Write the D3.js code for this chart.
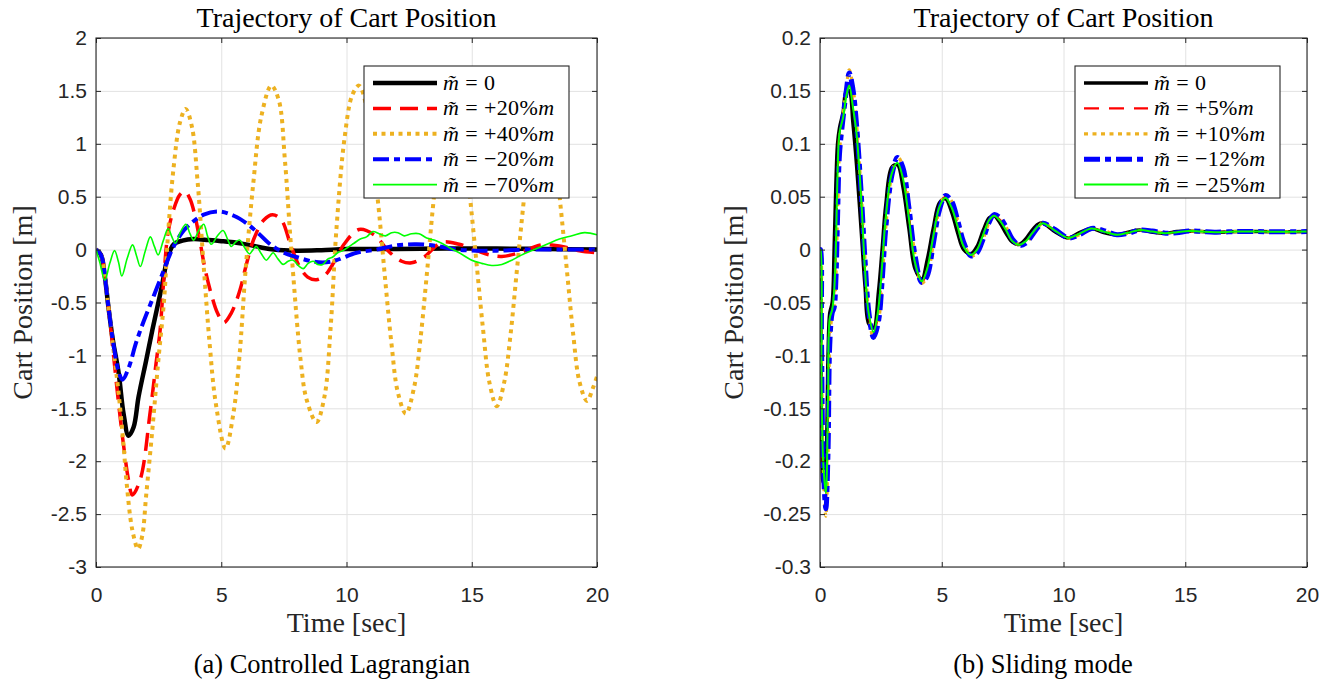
<!DOCTYPE html>
<html>
<head>
<meta charset="utf-8">
<script src="https://cdn.jsdelivr.net/npm/d3@7"></script>
<style>
  body { margin: 0; background: #fff; }
  svg { display: block; }
</style>
</head>
<body>
<svg id="fig" width="1333" height="684"></svg>
<script>
// ---------- shared axis data ----------
const xTicks = [0, 5, 10, 15, 20];
const xTickLabels = ["0", "5", "10", "15", "20"];

const clYTicks = [2, 1.5, 1, 0.5, 0, -0.5, -1, -1.5, -2, -2.5, -3];
const clYTickLabels = ["2", "1.5", "1", "0.5", "0", "-0.5", "-1", "-1.5", "-2", "-2.5", "-3"];

const smYTicks = [0.2, 0.15, 0.1, 0.05, 0, -0.05, -0.1, -0.15, -0.2, -0.25, -0.3];
const smYTickLabels = ["0.2", "0.15", "0.1", "0.05", "0", "-0.05", "-0.1", "-0.15", "-0.2", "-0.25", "-0.3"];

// ---------- (a) controlled Lagrangian: [time, position] ----------
const clLabels = ["0", "+20%", "+40%", "\u221220%", "\u221270%"];

const clBlack = [[0,0],[0.2,-0.05],[0.35,-0.25],[0.5,-0.55],[0.67,-0.85],[0.9,-1.16],[1.1,-1.55],[1.3,-1.76],[1.5,-1.68],[1.7,-1.39],
  [2.0,-1.05],[2.25,-0.76],[2.6,-0.38],[2.87,-0.07],[3.1,0.05],[3.45,0.085],[3.9,0.1],[4.5,0.09],[5.0,0.08],[5.6,0.065],
  [6.1,0.045],[6.6,0.02],[7.1,0.0],[8.0,-0.01],[9.0,-0.005],[10,0.005],[12,0.005],[14,0.01],[16,0.01],[18,0.005],[20,0]];

const clRed = [[0,0],[0.2,-0.05],[0.35,-0.25],[0.5,-0.55],[0.7,-1.0],[0.9,-1.45],[1.1,-1.85],[1.3,-2.18],[1.45,-2.32],[1.77,-2.17],
  [2.16,-1.54],[2.4,-1.07],[2.56,-0.76],[2.7,-0.3],[2.87,0.15],[3.1,0.38],[3.35,0.52],[3.55,0.55],[3.75,0.48],[3.95,0.32],
  [4.15,0.08],[4.35,-0.18],[4.6,-0.42],[4.85,-0.6],[5.1,-0.69],[5.4,-0.6],[5.75,-0.38],[5.95,-0.19],[6.3,0.1],[6.7,0.28],
  [7.05,0.33],[7.4,0.28],[7.75,0.06],[8.1,-0.15],[8.45,-0.26],[8.8,-0.285],[9.15,-0.24],[9.5,-0.12],[9.9,0.05],[10.5,0.19],
  [11.1,0.14],[11.7,-0.02],[12.2,-0.11],[12.6,-0.125],[13.1,-0.07],[13.8,0.07],[14.5,0.05],[15.2,-0.01],[15.7,-0.05],[16.2,-0.065],
  [16.9,-0.03],[17.8,0.045],[18.6,0.03],[19.3,-0.01],[20,-0.03]];

const clYellow = [[0,0],[0.2,-0.05],[0.35,-0.25],[0.5,-0.55],[0.7,-0.95],[0.9,-1.35],[1.1,-1.85],[1.22,-2.2],[1.45,-2.65],[1.68,-2.83],
  [1.85,-2.7],[2.0,-2.33],[2.25,-1.7],[2.48,-1.07],[2.72,-0.47],[2.88,0.16],[3.1,0.78],[3.35,1.2],[3.58,1.33],[3.83,1.16],
  [4.06,0.63],[4.3,-0.16],[4.54,-0.9],[4.78,-1.45],[5.17,-1.88],[5.49,-1.54],[5.73,-1.0],[5.97,-0.2],[6.28,0.63],[6.6,1.26],
  [7.0,1.55],[7.3,1.41],[7.54,0.85],[7.78,0.05],[8.18,-1.07],[8.41,-1.42],[8.8,-1.63],[9.12,-1.39],[9.36,-0.76],[9.6,0.2],
  [9.92,1.05],[10.23,1.46],[10.5,1.55],[10.8,1.35],[11.05,0.9],[11.3,0.35],[11.55,-0.3],[11.8,-0.9],[12.05,-1.35],[12.37,-1.55],
  [12.7,-1.3],[12.95,-0.85],[13.2,-0.25],[13.45,0.4],[13.7,0.95],[14.2,1.52],[14.7,1.0],[14.95,0.45],[15.2,-0.15],[15.45,-0.75],
  [15.7,-1.25],[16.0,-1.48],[16.3,-1.25],[16.55,-0.8],[16.8,-0.2],[17.05,0.4],[17.3,0.95],[17.8,1.48],[18.3,0.95],[18.55,0.4],
  [18.8,-0.2],[19.05,-0.8],[19.3,-1.25],[19.6,-1.43],[19.85,-1.3],[20,-1.2]];

const clBlue = [[0,0],[0.2,-0.05],[0.35,-0.25],[0.5,-0.55],[0.7,-0.9],[0.9,-1.15],[1.06,-1.23],[1.3,-1.12],[1.6,-0.88],[1.9,-0.68],
  [2.3,-0.44],[2.7,-0.2],[3.0,-0.02],[3.4,0.15],[3.8,0.25],[4.3,0.33],[4.9,0.36],[5.5,0.32],[6.0,0.25],[6.5,0.15],
  [6.9,0.06],[7.5,-0.03],[8.0,-0.07],[8.7,-0.115],[9.2,-0.12],[9.6,-0.1],[10.4,-0.03],[11.2,0.0],[12.0,0.04],[12.8,0.05],
  [13.6,0.035],[14.4,0.0],[15.2,-0.01],[16.0,-0.01],[17.0,0.0],[18.0,0.0],[20,0.0]];

const clGreen = [[0,0],[0.15,-0.12],[0.35,-0.29],[0.55,-0.13],[0.74,-0.01],[0.9,-0.12],[1.03,-0.25],[1.25,-0.08],[1.46,0.045],[1.62,-0.06],
  [1.77,-0.16],[1.97,-0.01],[2.17,0.12],[2.33,0.03],[2.48,-0.05],[2.68,0.08],[2.88,0.2],[3.03,0.12],[3.17,0.06],[3.38,0.17],
  [3.59,0.24],[3.75,0.15],[3.9,0.09],[4.1,0.18],[4.3,0.24],[4.45,0.13],[4.6,0.05],[4.85,0.13],[5.07,0.18],[5.25,0.1],
  [5.4,0.03],[5.57,0.07],[5.73,0.09],[5.93,0.02],[6.13,-0.04],[6.27,0.0],[6.4,0.03],[6.6,-0.04],[6.8,-0.1],[6.95,-0.06],
  [7.07,-0.03],[7.27,-0.09],[7.47,-0.14],[7.67,-0.11],[7.87,-0.1],[8.07,-0.15],[8.27,-0.18],[8.47,-0.13],[8.67,-0.11],[8.85,-0.14],
  [9.05,-0.14],[9.25,-0.09],[9.45,-0.07],[9.65,-0.03],[9.85,-0.01],[10.05,0.02],[10.3,0.06],[10.55,0.1],[10.8,0.12],[11.05,0.17],
  [11.3,0.15],[11.55,0.13],[11.8,0.16],[12.05,0.16],[12.3,0.13],[12.6,0.15],[12.9,0.15],[13.2,0.11],[13.5,0.09],[13.8,0.06],
  [14.1,0.02],[14.5,-0.03],[15.0,-0.1],[15.4,-0.13],[15.8,-0.15],[16.2,-0.14],[16.6,-0.1],[17.0,-0.05],[17.5,0.0],[18.0,0.05],
  [18.5,0.1],[19.0,0.13],[19.5,0.16],[20,0.14]];

// ---------- (b) sliding mode: shared time base, one value list per mass error ----------
const smLabels = ["0", "+5%", "+10%", "\u221212%", "\u221225%"];

const smTime = [0, 0.02, 0.06, 0.13, 0.24, 0.33, 0.4, 0.5, 0.58, 0.65,
  0.72, 0.8, 0.95, 1.08, 1.2, 1.35, 1.5, 1.7, 1.85, 2.0,
  2.2, 2.4, 2.55, 2.7, 2.95, 3.18, 3.4, 3.65, 3.9, 4.18,
  4.4, 4.65, 4.9, 5.15, 5.4, 5.65, 5.9, 6.2, 6.45, 6.7,
  6.95, 7.15, 7.4, 7.65, 7.9, 8.2, 8.45, 8.7, 8.95, 9.15,
  9.65, 10.2, 10.65, 11.15, 11.65, 12.2, 12.65, 13.15, 13.65, 14.2,
  14.65, 15.15, 15.65, 16.2, 17.15, 18, 19, 20];

const smBlack = [0, -0.05, -0.16, -0.22, -0.2, -0.1, -0.06, -0.05, 0.0, 0.06,
  0.1, 0.115, 0.13, 0.15, 0.15, 0.12, 0.08, 0.015, -0.035, -0.07,
  -0.074, -0.04, 0.0, 0.042, 0.078, 0.08, 0.06, 0.02, -0.018, -0.028,
  -0.01, 0.02, 0.044, 0.048, 0.036, 0.016, 0.0, -0.004, 0.003, 0.018,
  0.03, 0.032, 0.025, 0.015, 0.007, 0.005, 0.01, 0.018, 0.024, 0.025,
  0.017, 0.011, 0.016, 0.02, 0.016, 0.014, 0.0165, 0.0185, 0.0165, 0.0155,
  0.017, 0.0175, 0.017, 0.0165, 0.017, 0.017, 0.0168, 0.017];

const smRed = [0, 0, -0.13, -0.21, -0.235, -0.15, -0.07, -0.058, -0.042, -0.005,
  0.065, 0.11, 0.127, 0.148, 0.158, 0.14, 0.112, 0.048, -0.02, -0.062,
  -0.08, -0.058, -0.018, 0.028, 0.072, 0.084, 0.071, 0.033, -0.012, -0.031,
  -0.02, 0.01, 0.039, 0.05, 0.042, 0.024, 0.004, -0.005, -0.001, 0.013,
  0.027, 0.032, 0.028, 0.019, 0.009, 0.0045, 0.007, 0.014, 0.022, 0.025,
  0.018, 0.011, 0.015, 0.02, 0.017, 0.014, 0.016, 0.0185, 0.017, 0.0155,
  0.0165, 0.0175, 0.017, 0.0165, 0.017, 0.017, 0.0168, 0.017];

const smYellow = [0, 0, -0.085, -0.205, -0.252, -0.195, -0.092, -0.061, -0.055, -0.028,
  0.032, 0.092, 0.127, 0.152, 0.17, 0.154, 0.119, 0.051, -0.01, -0.059,
  -0.084, -0.068, -0.03, 0.021, 0.071, 0.088, 0.079, 0.041, -0.005, -0.032,
  -0.025, 0.005, 0.038, 0.052, 0.046, 0.028, 0.007, -0.006, -0.003, 0.01,
  0.026, 0.033, 0.03, 0.021, 0.01, 0.004, 0.006, 0.013, 0.021, 0.025,
  0.019, 0.011, 0.014, 0.02, 0.018, 0.014, 0.0155, 0.0185, 0.0175, 0.0155,
  0.016, 0.0175, 0.0172, 0.0165, 0.017, 0.017, 0.0168, 0.017];

const smBlue = [0, 0, -0.08, -0.2, -0.245, -0.19, -0.09, -0.06, -0.055, -0.03,
  0.03, 0.09, 0.125, 0.15, 0.167, 0.152, 0.118, 0.05, -0.01, -0.058,
  -0.083, -0.068, -0.03, 0.02, 0.07, 0.087, 0.078, 0.04, -0.005, -0.031,
  -0.025, 0.005, 0.037, 0.051, 0.046, 0.028, 0.007, -0.006, -0.003, 0.01,
  0.026, 0.033, 0.03, 0.021, 0.01, 0.004, 0.006, 0.013, 0.021, 0.025,
  0.019, 0.011, 0.014, 0.02, 0.018, 0.014, 0.0155, 0.0185, 0.0175, 0.0155,
  0.016, 0.0175, 0.0172, 0.0165, 0.017, 0.017, 0.0168, 0.017];

const smGreen = [0, 0, -0.12, -0.2, -0.23, -0.14, -0.065, -0.057, -0.04, 0.0,
  0.07, 0.11, 0.125, 0.145, 0.155, 0.135, 0.11, 0.045, -0.02, -0.06,
  -0.078, -0.055, -0.015, 0.03, 0.072, 0.082, 0.068, 0.03, -0.012, -0.03,
  -0.018, 0.012, 0.04, 0.049, 0.04, 0.022, 0.003, -0.005, 0.0, 0.014,
  0.028, 0.032, 0.027, 0.018, 0.008, 0.0045, 0.008, 0.015, 0.022, 0.025,
  0.018, 0.011, 0.015, 0.02, 0.017, 0.014, 0.016, 0.0185, 0.017, 0.0155,
  0.0165, 0.0175, 0.017, 0.0165, 0.017, 0.017, 0.0168, 0.017];

// ---------- line styles (MATLAB default-like colours) ----------
const COLORS = ["#000000", "#ff0000", "#edb120", "#0000ff", "#00ff00"];
const styleA = [
  { w: 4.5, dash: null },
  { w: 3.5, dash: "18,9" },
  { w: 4,   dash: "4,4.5" },
  { w: 4,   dash: "16,5,6,5" },
  { w: 1.6, dash: null }
];
const styleB = [
  { w: 3.5, dash: null },
  { w: 2.2, dash: "15,10" },
  { w: 3.2, dash: "4,4.5" },
  { w: 5,   dash: "16,5,6,5" },
  { w: 2,   dash: null }
];

const SERIF = "'Liberation Serif', 'Times New Roman', serif";
const SANS = "'Liberation Sans', Arial, Helvetica, sans-serif";
const TOP = 38, BOTTOM = 567;
const LEGEND_FS = 22;

const panels = [
  {
    id: "a", x0: 96, x1: 597, yDomain: [-3, 2],
    yTicks: clYTicks, yTickLabels: clYTickLabels,
    series: [clBlack, clRed, clYellow, clBlue, clGreen],
    styles: styleA, labels: clLabels,
    legend: { x: 364, y: 66, w: 205, h: 132 },
    ylabelX: 32, caption: "(a) Controlled Lagrangian", captionX: 332
  },
  {
    id: "b", x0: 820, x1: 1307, yDomain: [-0.3, 0.2],
    yTicks: smYTicks, yTickLabels: smYTickLabels,
    series: [smBlack, smRed, smYellow, smBlue, smGreen].map(v => smTime.map((t, i) => [t, v[i]])),
    styles: styleB, labels: smLabels,
    legend: { x: 1075, y: 66, w: 205, h: 132 },
    ylabelX: 743, caption: "(b) Sliding mode", captionX: 1043
  }
];

const svg = d3.select("#fig");

panels.forEach(p => {
  const x = d3.scaleLinear().domain([0, 20]).range([p.x0, p.x1]);
  const y = d3.scaleLinear().domain(p.yDomain).range([BOTTOM, TOP]);
  const g = svg.append("g");

  // clip region for the traces
  g.append("clipPath").attr("id", "clip-" + p.id)
    .append("rect").attr("x", p.x0).attr("y", TOP)
    .attr("width", p.x1 - p.x0).attr("height", BOTTOM - TOP);

  // grid
  const grid = g.append("g").attr("class", "grid");
  grid.append("g").attr("transform", `translate(0,${BOTTOM})`)
    .call(d3.axisBottom(x).tickValues(xTicks).tickSize(-(BOTTOM - TOP)).tickFormat(""));
  grid.append("g").attr("transform", `translate(${p.x0},0)`)
    .call(d3.axisLeft(y).tickValues(p.yTicks).tickSize(-(p.x1 - p.x0)).tickFormat(""));
  grid.selectAll(".domain").remove();
  grid.selectAll("line").attr("stroke", "#e2e2e2").attr("stroke-width", 1);

  // traces
  const line = d3.line()
    .x(d => x(d[0])).y(d => y(d[1]))
    .curve(d3.curveCatmullRom.alpha(0.5));
  const traces = g.append("g").attr("clip-path", `url(#clip-${p.id})`);
  p.series.forEach((s, i) => {
    traces.append("path")
      .attr("d", line(s))
      .attr("fill", "none")
      .attr("stroke", COLORS[i])
      .attr("stroke-width", p.styles[i].w)
      .attr("stroke-dasharray", p.styles[i].dash)
      .attr("stroke-linejoin", "round")
      .attr("stroke-linecap", "butt");
  });

  // axes with inward ticks on all four sides
  const axCol = "#262626";
  const bottom = g.append("g").attr("transform", `translate(0,${BOTTOM})`)
    .call(d3.axisBottom(x).tickValues(xTicks).tickFormat((d, i) => xTickLabels[i])
      .tickSizeInner(-5).tickSizeOuter(0).tickPadding(20));
  const top = g.append("g").attr("transform", `translate(0,${TOP})`)
    .call(d3.axisTop(x).tickValues(xTicks).tickFormat("").tickSizeInner(-5).tickSizeOuter(0));
  const left = g.append("g").attr("transform", `translate(${p.x0},0)`)
    .call(d3.axisLeft(y).tickValues(p.yTicks).tickFormat((d, i) => p.yTickLabels[i])
      .tickSizeInner(-5).tickSizeOuter(0).tickPadding(9));
  const right = g.append("g").attr("transform", `translate(${p.x1},0)`)
    .call(d3.axisRight(y).tickValues(p.yTicks).tickFormat("").tickSizeInner(-5).tickSizeOuter(0));
  [bottom, top, left, right].forEach(a => {
    a.select(".domain").remove();
    a.selectAll("line").attr("stroke", axCol).attr("stroke-width", 1);
    a.selectAll("text").attr("fill", axCol).attr("font-family", SANS).attr("font-size", 21);
  });
  g.append("rect")
    .attr("x", p.x0).attr("y", TOP)
    .attr("width", p.x1 - p.x0).attr("height", BOTTOM - TOP)
    .attr("fill", "none").attr("stroke", axCol).attr("stroke-width", 1.1);

  // legend
  const L = p.legend;
  const lg = g.append("g");
  lg.append("rect").attr("x", L.x).attr("y", L.y).attr("width", L.w).attr("height", L.h)
    .attr("fill", "#fff").attr("stroke", axCol).attr("stroke-width", 1.1);
  p.labels.forEach((lab, i) => {
    const cy = L.y + 17 + i * 25.4;
    const lx0 = L.x + 9, lx1 = L.x + 73, tx = L.x + 79;
    lg.append("line")
      .attr("x1", lx0).attr("x2", lx1).attr("y1", cy).attr("y2", cy)
      .attr("stroke", COLORS[i]).attr("stroke-width", p.styles[i].w)
      .attr("stroke-dasharray", p.styles[i].dash);
    const t = lg.append("text").attr("x", tx).attr("y", cy + 7)
      .attr("font-family", SERIF).attr("font-size", LEGEND_FS).attr("fill", "#000")
      .attr("letter-spacing", 0.4);
    // italic m carrying a combining tilde
    t.append("tspan").attr("font-style", "italic").text("m\u0303");
    t.append("tspan").text(" = " + lab);
    if (lab !== "0") t.append("tspan").attr("font-style", "italic").text("m");
  });

  // titles and labels
  const cx = (p.x0 + p.x1) / 2;
  g.append("text").attr("x", cx).attr("y", 27).attr("text-anchor", "middle")
    .attr("font-family", SERIF).attr("font-size", 28).attr("fill", "#000")
    .text("Trajectory of Cart Position");
  g.append("text").attr("x", cx).attr("y", 632).attr("text-anchor", "middle")
    .attr("font-family", SERIF).attr("font-size", 28).attr("fill", axCol)
    .text("Time [sec]");
  g.append("text")
    .attr("transform", `translate(${p.ylabelX},${(TOP + BOTTOM) / 2}) rotate(-90)`)
    .attr("text-anchor", "middle")
    .attr("font-family", SERIF).attr("font-size", 28).attr("fill", axCol)
    .text("Cart Position [m]");
  g.append("text").attr("x", p.captionX).attr("y", 673).attr("text-anchor", "middle")
    .attr("font-family", SERIF).attr("font-size", 26.5).attr("fill", "#000")
    .text(p.caption);
});
</script>
</body>
</html>
